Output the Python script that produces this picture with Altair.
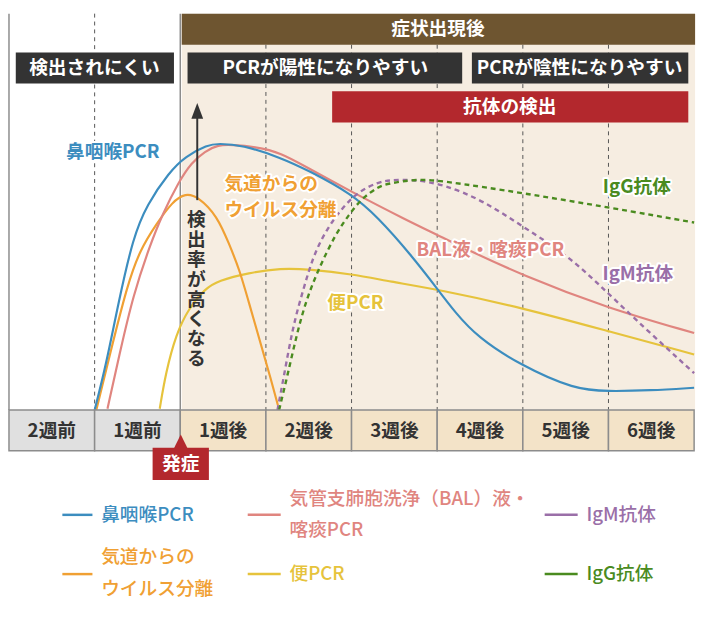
import altair as alt
import pandas as pd

# ---------------- data: weeks since onset -> detection rate (%) ----------------
nasal_week = [-1.0, -0.87, -0.72, -0.55, -0.39, -0.13, 0.06, 0.32, 0.44, 0.72, 1.17, 1.51,
              2.0, 2.3, 2.7, 3.0, 3.21, 3.47, 3.97, 4.61, 4.99, 5.48, 6.0]
nasal_rate = [0, 11.0, 27.3, 43.6, 51.8, 60.0, 64.0, 66.9, 67.2, 66.9, 63.7, 60.3,
              54.5, 48.8, 39.0, 30.6, 24.6, 18.4, 11.3, 5.1, 4.7, 4.9, 5.6]

bal_week = [-0.85, -0.70, -0.55, -0.36, -0.21, -0.02, 0.13, 0.29, 0.44, 0.61, 0.87, 1.17,
            1.51, 1.97, 2.65, 3.01, 3.21, 4.01, 4.99, 6.0]
bal_rate = [0.3, 15.0, 28.9, 41.2, 49.3, 57.5, 62.4, 65.3, 66.9, 66.9, 66.4, 65.0,
            60.8, 55.4, 47.8, 44.1, 41.9, 33.8, 25.7, 19.4]

virus_week = [-0.98, -0.81, -0.62, -0.47, -0.28, -0.09, 0.06, 0.21, 0.43, 0.57, 0.69, 0.80,
              0.95, 1.06, 1.14]
virus_rate = [0, 15.0, 31.4, 40.4, 46.9, 52.6, 54.7, 53.8, 49.0, 41.9, 35.5, 27.2,
              15.9, 7.6, 1.2]

stool_week = [-0.24, -0.17, -0.05, 0.10, 0.29, 0.44, 0.80, 1.17, 1.51, 2.0, 2.45, 3.01,
              4.01, 4.99, 6.0]
stool_rate = [0.3, 9.3, 19.1, 25.7, 30.6, 32.6, 34.6, 35.8, 35.5, 34.3, 32.4, 30.4,
              25.7, 19.9, 14.0]

igm_week = [1.135, 1.21, 1.32, 1.44, 1.55, 1.70, 1.89, 2.08, 2.31, 2.45, 2.7, 3.07,
            3.55, 4.01, 4.49, 4.88, 5.29, 6.0]
igm_rate = [0, 8.5, 21.6, 30.6, 38.7, 45.3, 51.0, 55.1, 57.5, 58.0, 58.2, 57.0,
            52.7, 46.1, 39.5, 31.9, 23.3, 9.3]

igg_week = [1.154, 1.25, 1.36, 1.475, 1.63, 1.815, 1.97, 2.12, 2.31, 2.42, 2.76, 3.07,
            4.01, 5.03, 6.0]
igg_rate = [0, 8.5, 19.1, 28.1, 36.3, 44.4, 49.3, 53.4, 56.3, 57.1, 58.3, 57.8,
            54.7, 51.0, 47.3]

week_labels = ["2週前", "1週前", "1週後", "2週後", "3週後", "4週後", "5週後", "6週後"]
grid_weeks = [-1, 1, 2, 3, 4, 5]
vertical_caption = "検出率が高くなる"

# ---------------- styling / layout ----------------
FONT = "Noto Sans CJK JP"
BLUE, PINK, ORANGE = "#3c8dbf", "#e0857f", "#f0a033"
YELLOW, PURPLE, GREEN = "#e6c33c", "#9a6fa8", "#4a8b1f"
DARK, RED, BROWN = "#333333", "#b3282d", "#6e5530"
BEIGE, CELL_BEIGE, CELL_GRAY, LINE_GRAY = "#f6ede1", "#f3e3c8", "#e0e0e0", "#8c8c8c"

W, H = 697, 596
xs = alt.Scale(domain=[-2, 6.011], nice=False, zero=False)
ys = alt.Scale(domain=[-48.04, 100], nice=False, zero=False)


def X(px):  # reference-pixel helper for annotation layout
    return px / 88.25 - 2


def Y(py):
    return (408 - py) / 4.08


def enc_xy():
    return dict(x=alt.X("x:Q", scale=xs, axis=None), y=alt.Y("y:Q", scale=ys, axis=None))


def rect_layer(rows, **kw):
    df = pd.DataFrame(rows, columns=["x", "x2", "y", "y2", "c"])
    return alt.Chart(df).mark_rect(**kw).encode(
        **enc_xy(), x2="x2:Q", y2="y2:Q", color=alt.Color("c:N", scale=None))


def rule_layer(rows, **kw):
    df = pd.DataFrame(rows, columns=["x", "x2", "y", "y2", "c"])
    return alt.Chart(df).mark_rule(**kw).encode(
        **enc_xy(), x2="x2:Q", y2="y2:Q", color=alt.Color("c:N", scale=None))


def text_layer(rows, size=19, weight="bold", align="center", **kw):
    df = pd.DataFrame(rows, columns=["t", "x", "y", "c"])
    return alt.Chart(df).mark_text(font=FONT, fontSize=size, fontWeight=weight, align=align,
                                   baseline="middle", **kw).encode(
        **enc_xy(), text="t:N", color=alt.Color("c:N", scale=None))


def curve(weeks, rates, color, dash=None, width=2.2):
    df = pd.DataFrame({"x": weeks, "y": rates})
    kw = dict(color=color, strokeWidth=width, interpolate="basis")
    if dash:
        kw["strokeDash"] = dash
    return alt.Chart(df).mark_line(**kw).encode(**enc_xy())


layers = []

# background of the post-onset period
layers.append(rect_layer([[X(178), X(707), Y(0), Y(408), BEIGE]]))

# grid lines
grid_rows = [[w, w, Y(0) if w < 0 else Y(32), Y(408), "#555555"] for w in grid_weeks]
layers.append(rule_layer(grid_rows, strokeDash=[4, 4], strokeWidth=1))
layers.append(rule_layer([[0, 0, Y(0), Y(408), LINE_GRAY], [-2, -2, Y(0), Y(408), LINE_GRAY]],
                         strokeWidth=1.5))

# header bars and boxes
layers.append(rect_layer([
    [X(178), X(707), Y(0), Y(32), BROWN],
    [X(7), X(170), Y(40), Y(72), DARK],
    [X(184), X(467), Y(40), Y(72), DARK],
    [X(477), X(700), Y(40), Y(72), DARK],
    [X(333), X(700), Y(80), Y(112), RED],
]))
layers.append(text_layer([
    ["症状出現後", X(442), Y(16), "white"],
    ["検出されにくい", X(88), Y(56), "white"],
    ["PCRが陽性になりやすい", X(326), Y(56), "white"],
    ["PCRが陰性になりやすい", X(588), Y(56), "white"],
    ["抗体の検出", X(516), Y(96), "white"],
]))

# curves
layers += [
    curve(stool_week, stool_rate, YELLOW),
    curve(virus_week, virus_rate, ORANGE),
    curve(bal_week, bal_rate, PINK),
    curve(nasal_week, nasal_rate, BLUE),
    curve(igm_week, igm_rate, PURPLE, dash=[5, 4], width=2.4),
    curve(igg_week, igg_rate, GREEN, dash=[5, 4], width=2.4),
]

# arrow with vertical caption (one character per line)
layers.append(rule_layer([[X(194), X(194), Y(192), Y(104), DARK]], strokeWidth=2))
arrow_df = pd.DataFrame({"x": [X(194)], "y": [Y(100)]})
layers.append(alt.Chart(arrow_df).mark_point(
    shape="M-0.75,1L0,-1L0.75,1Z", size=256, filled=True, color=DARK, opacity=1,
    strokeWidth=0).encode(**enc_xy()))
layers.append(text_layer([["\n".join(vertical_caption), X(193), Y(213), DARK]],
                         size=19, lineBreak="\n", lineHeight=20.1))

# curve labels with white halo
label_rows = [
    ["鼻咽喉PCR", X(107), Y(143), BLUE],
    ["BAL液・喀痰PCR", X(496), Y(243), PINK],
    ["IgM抗体", X(648), Y(268), PURPLE],
    ["IgG抗体", X(647), Y(179), GREEN],
    ["便PCR", X(357), Y(298), YELLOW],
]
orange_rows = [
    ["気道からの", X(222), Y(175), ORANGE],
    ["ウイルス分離", X(222), Y(202), ORANGE],
]
layers.append(text_layer(label_rows, stroke="white", strokeWidth=4, strokeJoin="round"))
layers.append(text_layer(label_rows))
layers.append(text_layer(orange_rows, align="left", stroke="white", strokeWidth=4,
                         strokeJoin="round"))
layers.append(text_layer(orange_rows, align="left"))

# week cells (x axis)
cell_rows = [[-2 + i, -1 + i, Y(408), Y(450), CELL_GRAY if i < 2 else CELL_BEIGE]
             for i in range(len(week_labels))]
layers.append(rect_layer(cell_rows, stroke=LINE_GRAY, strokeWidth=1.5))
layers.append(text_layer([[lab, -1.5 + i, Y(430), DARK] for i, lab in enumerate(week_labels)]))

# onset marker
layers.append(rect_layer([[X(148), X(206), Y(447), Y(480), RED]]))
tri_df = pd.DataFrame({"x": [X(177)], "y": [Y(440.5)]})
layers.append(alt.Chart(tri_df).mark_point(
    shape="M-1,1L0,-1L1,1Z", size=196, filled=True, color=RED, opacity=1,
    strokeWidth=0).encode(**enc_xy()))
layers.append(text_layer([["発症", X(177), Y(464), "white"]]))

# legend
legend_lines = [
    [X(55), X(86), Y(516), Y(516), BLUE],
    [X(246), X(280), Y(516), Y(516), PINK],
    [X(552), X(586), Y(516), Y(516), PURPLE],
    [X(55), X(86), Y(577), Y(577), ORANGE],
    [X(246), X(280), Y(577), Y(577), YELLOW],
    [X(552), X(586), Y(577), Y(577), GREEN],
]
layers.append(rule_layer(legend_lines, strokeWidth=2.5))
legend_text = [
    ["鼻咽喉PCR", X(95), Y(516), BLUE],
    ["気管支肺胞洗浄（BAL）液・", X(289), Y(500), PINK],
    ["喀痰PCR", X(289), Y(532), PINK],
    ["IgM抗体", X(595), Y(516), PURPLE],
    ["気道からの", X(95), Y(560), ORANGE],
    ["ウイルス分離", X(95), Y(592), ORANGE],
    ["便PCR", X(289), Y(577), YELLOW],
    ["IgG抗体", X(595), Y(577), GREEN],
]
layers.append(text_layer(legend_text, align="left", weight=500))

chart = alt.layer(*layers).properties(
    width=W, height=H, padding=0, background="white"
).configure_view(stroke=None)

chart.save("out.html", embed_options={"renderer": "svg", "actions": False})
